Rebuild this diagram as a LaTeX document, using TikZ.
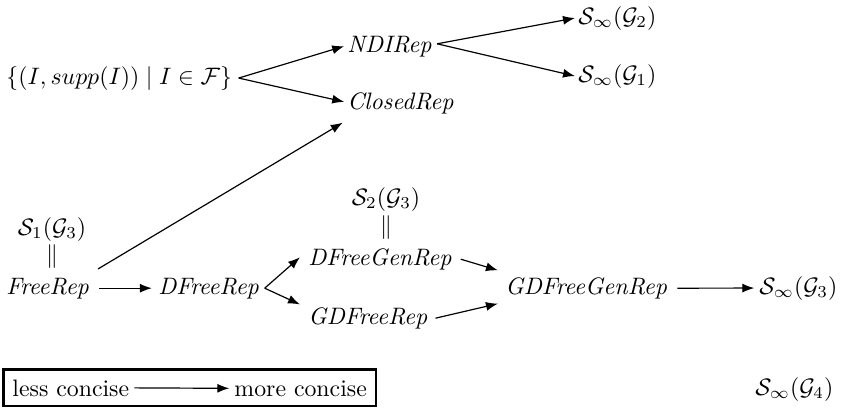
\documentclass[tikz,border=0pt]{standalone}
\usetikzlibrary{arrows.meta,fit}
\begin{document}
\begin{tikzpicture}[x=0.4202pt,y=-0.4202pt,
  lbl/.style={inner sep=0pt, anchor=base west},
  mid/.style={inner sep=0pt, anchor=base},
  arr/.style={-{Latex[length=5pt,width=3.8pt]}, line width=0.5pt},
  boxed/.style={draw, line width=0.9pt, inner xsep=3.6pt, inner ysep=4pt}]
\useasboundingbox (0,0) rectangle (844,409);
% top part
\node[lbl] (set) at (6,84) {$\{(I, supp(I)) \mid I \in \mathcal{F}\}$};
\node[lbl] (ndi) at (347,52) {$\mathit{NDIRep}$};
\node[lbl] (closed) at (347,109) {$\mathit{ClosedRep}$};
\node[lbl] (g2) at (578,24) {$\mathcal{S}_\infty(\mathcal{G}_2)$};
\node[lbl] (g1) at (578,82) {$\mathcal{S}_\infty(\mathcal{G}_1)$};
% middle part
\node[mid] (s1) at (52,235) {$\mathcal{S}_1(\mathcal{G}_3)$};
\node[inner sep=0pt] (eq1) at (52,257) {$\|$};
\node[lbl] (free) at (6,294) {$\mathit{FreeRep}$};
\node[lbl] (dfree) at (158,294) {$\mathit{DFreeRep}$};
\node[mid] (s2) at (386,205) {$\mathcal{S}_2(\mathcal{G}_3)$};
\node[inner sep=0pt] (eq2) at (386,228) {$\|$};
\node[lbl] (dfg) at (308,265) {$\mathit{DFreeGenRep}$};
\node[lbl] (gdf) at (308,324) {$\mathit{GDFreeRep}$};
\node[lbl] (gdfg) at (505,294) {$\mathit{GDFreeGenRep}$};
\node[lbl] (g3) at (759,294) {$\mathcal{S}_\infty(\mathcal{G}_3)$};
% legend
\node[lbl] (less) at (12,396) {less concise};
\node[lbl] (more) at (234,396) {more concise};
\node[boxed, fit=(less)(more)] (legend) {};
\node[lbl] (g4) at (755,395) {$\mathcal{S}_\infty(\mathcal{G}_4)$};
% connectors
\draw[arr] ([xshift=2.6pt]set.east) -- ([xshift=-1.2pt]ndi.west);
\draw[arr] ([xshift=2.6pt]set.east) -- ([xshift=-1.2pt,yshift=0.5pt]closed.west);
\draw[arr] ([xshift=1.5pt,yshift=1pt]ndi.east) -- ([xshift=-1.3pt]g2.west);
\draw[arr] ([xshift=1.5pt,yshift=1pt]ndi.east) -- ([xshift=-1.3pt]g1.west);
\draw[arr] ([xshift=3pt,yshift=3.5pt]free.north east) -- ([xshift=-1.8pt,yshift=-3.6pt]closed.south west);
\draw[arr] ([xshift=3.5pt]free.east) -- ([xshift=-2.6pt]dfree.west);
\draw[arr] ([xshift=1.6pt]dfree.east) -- ([xshift=-3.4pt,yshift=0.8pt]dfg.west);
\draw[arr] ([xshift=1.6pt]dfree.east) -- ([xshift=-3.4pt,yshift=1.2pt]gdf.north west);
\draw[arr] ([xshift=3pt]dfg.east) -- ([xshift=-3pt,yshift=7.5pt]gdfg.west);
\draw[arr] ([xshift=2.6pt]gdf.east) -- ([xshift=-3pt,yshift=-6.5pt]gdfg.west);
\draw[arr] ([xshift=3.5pt]gdfg.east) -- ([xshift=-2pt]g3.west);
\draw[arr] ([xshift=2pt]less.east) -- ([xshift=-2pt]more.west);
\end{tikzpicture}
\end{document}
